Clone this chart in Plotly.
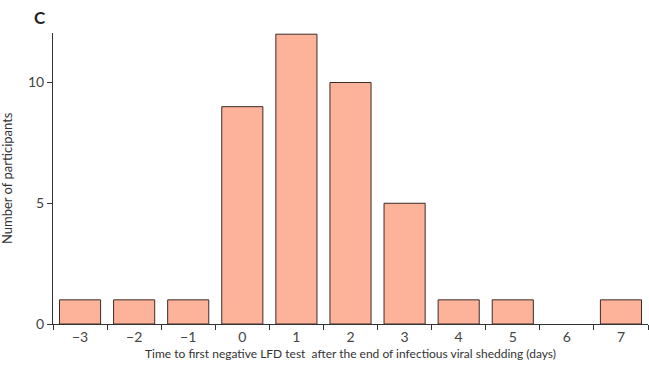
import plotly.graph_objects as go

days = ["−3", "−2", "−1", "0", "1", "2", "3", "4", "5", "6", "7"]
participants = [1, 1, 1, 9, 12, 10, 5, 1, 1, 0, 1]
y_ticks = [0, 5, 10]

fig = go.Figure()
fig.add_trace(go.Bar(
    x=days, y=participants,
    marker=dict(color="#FDB39A",
                line=dict(color="#3a2a2a", width=[1 if v > 0 else 0 for v in participants])),
    width=0.76,
))

font = "Lato, sans-serif"
fig.update_layout(
    width=649, height=365,
    margin=dict(l=53, r=1, t=33, b=41),
    plot_bgcolor="white", paper_bgcolor="white",
    showlegend=False,
    font=dict(family=font, size=13, color="#333"),
)
fig.update_xaxes(
    type="category", range=[-0.5, 10.5], automargin=False,
    showline=True, linecolor="#333", linewidth=1,
    ticks="outside", tickson="boundaries", ticklen=5, tickcolor="#333",
    tickfont=dict(size=14, color="#444"),
    showgrid=False, zeroline=False,
    title=dict(text="Time to first negative LFD test  after the end of infectious viral shedding (days)",
               font=dict(size=12, color="#333"), standoff=5),
)
fig.update_yaxes(
    range=[0, 12.05], tickvals=y_ticks, automargin=False,
    showline=True, linecolor="#333", linewidth=1,
    ticks="outside", ticklen=5, tickcolor="#333",
    tickfont=dict(size=14, color="#444"),
    showgrid=False, zeroline=False,
)
fig.add_annotation(text="Number of participants", xref="paper", yref="paper",
                   x=-0.078, y=0.5, xanchor="center", yanchor="middle", textangle=-90,
                   showarrow=False, font=dict(size=13, color="#333"))
fig.add_annotation(text="<b>C</b>", xref="paper", yref="paper", x=-0.022, y=1.052,
                   xanchor="center", yanchor="middle",
                   showarrow=False, font=dict(size=17, color="#222"))
fig.write_html("out.html", config={"displayModeBar": False},
               post_script="document.body.style.margin='0px';document.body.style.overflow='hidden';")
